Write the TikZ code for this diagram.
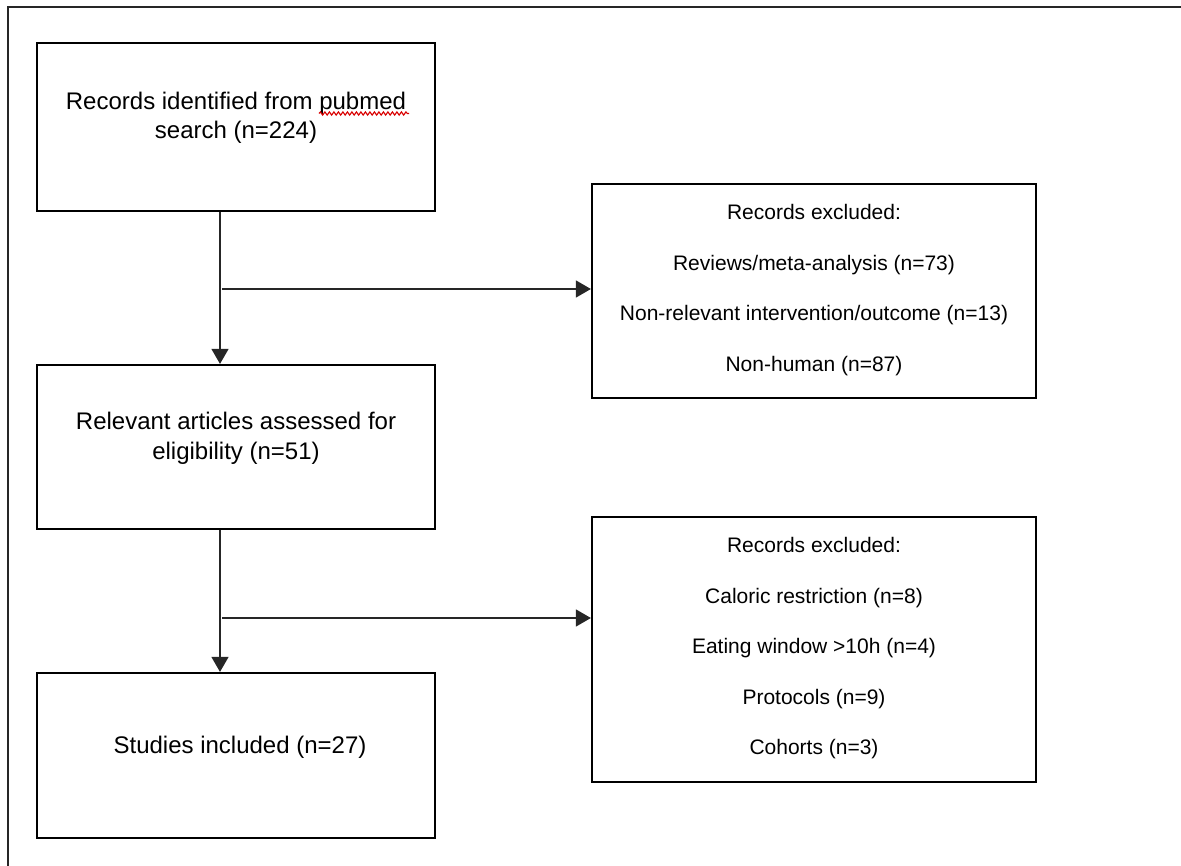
\documentclass[tikz,border=0pt]{standalone}
\usepackage{fontspec}
\setmainfont{Liberation Sans}
\usetikzlibrary{arrows.meta,decorations.pathmorphing}
\begin{document}
\begin{tikzpicture}[x=1pt,y=-1pt,
  box/.style={draw=black, line width=2.2pt, inner sep=0pt, rectangle},
  big/.style={font=\fontsize{24}{29}\selectfont, anchor=base, inner sep=0pt, text=black},
  small/.style={font=\fontsize{21}{26}\selectfont, anchor=base, inner sep=0pt, text=black},
  conn/.style={line width=1.3pt, draw=black!85},
  arr/.style={conn, -{Triangle[length=15pt,width=17pt]}}]
\useasboundingbox (0,0) rectangle (1181,866);
% outer frame (only top and left edges visible)
\draw[line width=1.6pt, black!85] (8,870) -- (8,7) -- (1185,7);

% boxes
\node[box, minimum width=398pt, minimum height=168pt] (b1) at (236,127) {};
\node[box, minimum width=444pt, minimum height=214pt] (b2) at (814,291) {};
\node[box, minimum width=398pt, minimum height=164pt] (b3) at (236,447) {};
\node[box, minimum width=398pt, minimum height=165pt] (b4) at (236,755.5) {};
\node[box, minimum width=444pt, minimum height=265pt] (b5) at (814,649.5) {};

% texts
\node[big] (t1a) at (236,110) {Records identified from pubmed};
\node[big] (t1b) at (236,139) {search (n=224)};
\draw[red!85!black, line width=1.1pt, decorate,
      decoration={snake, amplitude=1.6pt, segment length=4.5pt}] (319,113.5) -- (409,113.5);

\node[small] (t2a) at (814,220)   {Records excluded:};
\node[small] (t2b) at (814,270.5) {Reviews/meta-analysis (n=73)};
\node[small] (t2c) at (814,321)   {Non-relevant intervention/outcome (n=13)};
\node[small] (t2d) at (814,371.5) {Non-human (n=87)};

\node[big] (t3a) at (236,430) {Relevant articles assessed for};
\node[big] (t3b) at (236,459.5) {eligibility (n=51)};

\node[big] (t4) at (240,753) {Studies included (n=27)};

\node[small] (t5a) at (814,552.5) {Records excluded:};
\node[small] (t5b) at (814,603)   {Caloric restriction (n=8)};
\node[small] (t5c) at (814,653.5) {Eating window >10h (n=4)};
\node[small] (t5d) at (814,704)   {Protocols (n=9)};
\node[small] (t5e) at (814,754.5) {Cohorts (n=3)};

% connectors
\coordinate (v) at (220,0);
\coordinate (j1) at (222,289);
\coordinate (j2) at (222,618);
\draw[arr] (b1.south -| v) -- (b3.north -| v);
\draw[arr] (b3.south -| v) -- (b4.north -| v);
\draw[arr] (j1) -- (j1 -| b2.west);
\draw[arr] (j2) -- (j2 -| b5.west);
\end{tikzpicture}
\end{document}
